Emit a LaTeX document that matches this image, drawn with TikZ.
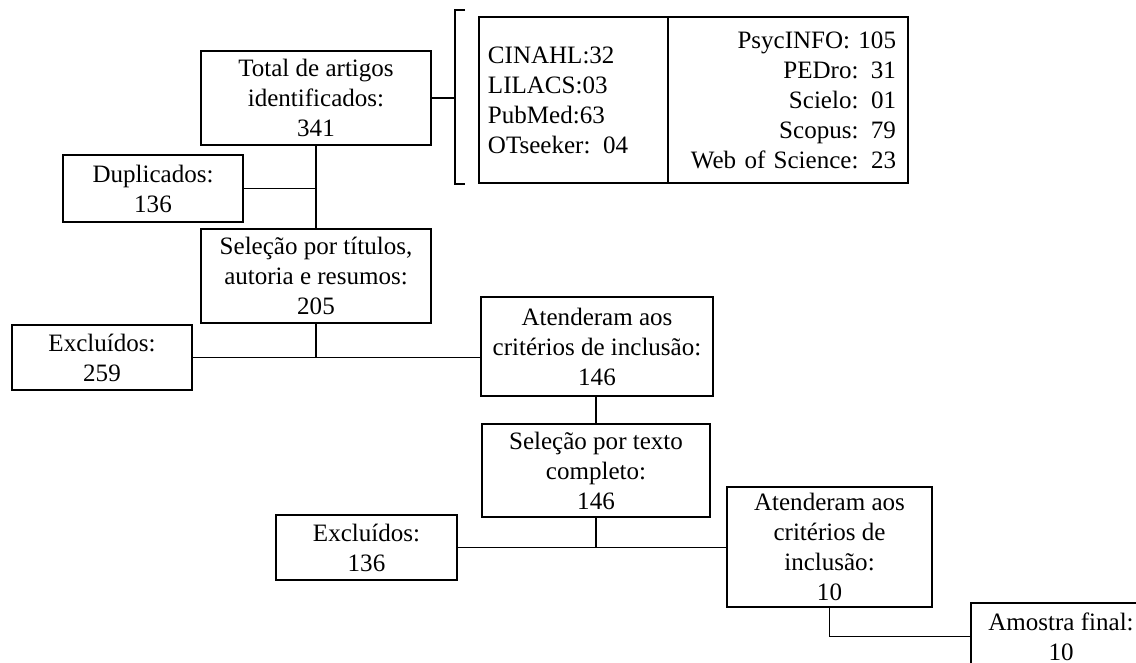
\documentclass[tikz,border=0pt]{standalone}
\usepackage{fontspec}
\setmainfont{Liberation Serif}

\begin{document}
\begin{tikzpicture}[x=0.025cm,y=-0.025cm,font=\fontsize{17.8pt}{21.3pt}\selectfont,
		box/.style={draw,line width=1.4pt,align=center,inner sep=0pt},
		link/.style={line width=1.4pt}]
		\useasboundingbox (0,0) rectangle (1136,663);
		\clip (0,0) rectangle (1136,663);

		\node[box,minimum width=5.75cm,minimum height=2.35cm] (total) at (316,98) {Total de artigos\\identificados:\\341};
		\node[box,minimum width=4.5cm,minimum height=1.675cm] (dup) at (153,188.5) {Duplicados:\\136};
		\node[box,minimum width=5.75cm,minimum height=2.35cm] (selTit) at (316,276) {Seleção por títulos,\\autoria e resumos:\\205};
		\node[box,minimum width=4.5cm,minimum height=1.625cm] (exc1) at (102,357.5) {Excluídos:\\259};
		\node[box,minimum width=5.8cm,minimum height=2.475cm] (aten1) at (597,346.5) {Atenderam aos\\critérios de inclusão:\\146};
		\node[box,minimum width=5.7cm,minimum height=2.325cm] (selTxt) at (596,470.5) {Seleção por texto\\completo:\\146};
		\node[box,minimum width=4.525cm,minimum height=1.625cm] (exc2) at (366.5,547.5) {Excluídos:\\136};
		\node[box,minimum width=5.125cm,minimum height=3cm] (aten2) at (829.5,547) {Atenderam aos\\critérios de\\inclusão:\\10};
		\node[box,minimum width=4.5cm,minimum height=1.675cm] (amostra) at (1061,636.5) {Amostra final:\\10};

		\node[box,align=left,text width=4.275cm,inner sep=0.225cm,minimum height=4.15cm] (dbL) at (573.5,100) {CINAHL:32\\LILACS:03\\PubMed:63\\OTseeker: 04};
		\node[box,align=right,text width=5.4cm,inner sep=0.3cm,minimum height=4.15cm] (dbR) at (788,100) {PsycINFO: 105\\PEDro: 31\\Scielo: 01\\Scopus: 79\\Web of Science: 23};

		\coordinate (brT) at (465,10);
		\coordinate (brM) at (455,98);
		\coordinate (brB) at (465,184);
		\draw[link] (brT) -- ++(-10,0) |- (brB);
		\draw[link] (total.east) -- (brM);

		\draw[link] (total) -- (selTit);
		\draw[link] (dup.east) -- (dup.east -| total.south);
		\draw[link] (selTit.south) -- (selTit.south |- exc1.east);
		\draw[link] (exc1.east) -- (exc1.east -| aten1.west);
		\draw[link] (selTxt.north) -- (selTxt.north |- aten1.south);
		\draw[link] (selTxt.south) -- (selTxt.south |- aten2.west);
		\draw[link] (exc2.east) -- (exc2.east -| aten2.west);
		\draw[link] (aten2.south) |- (amostra.west);
	\end{tikzpicture}
\end{document}
